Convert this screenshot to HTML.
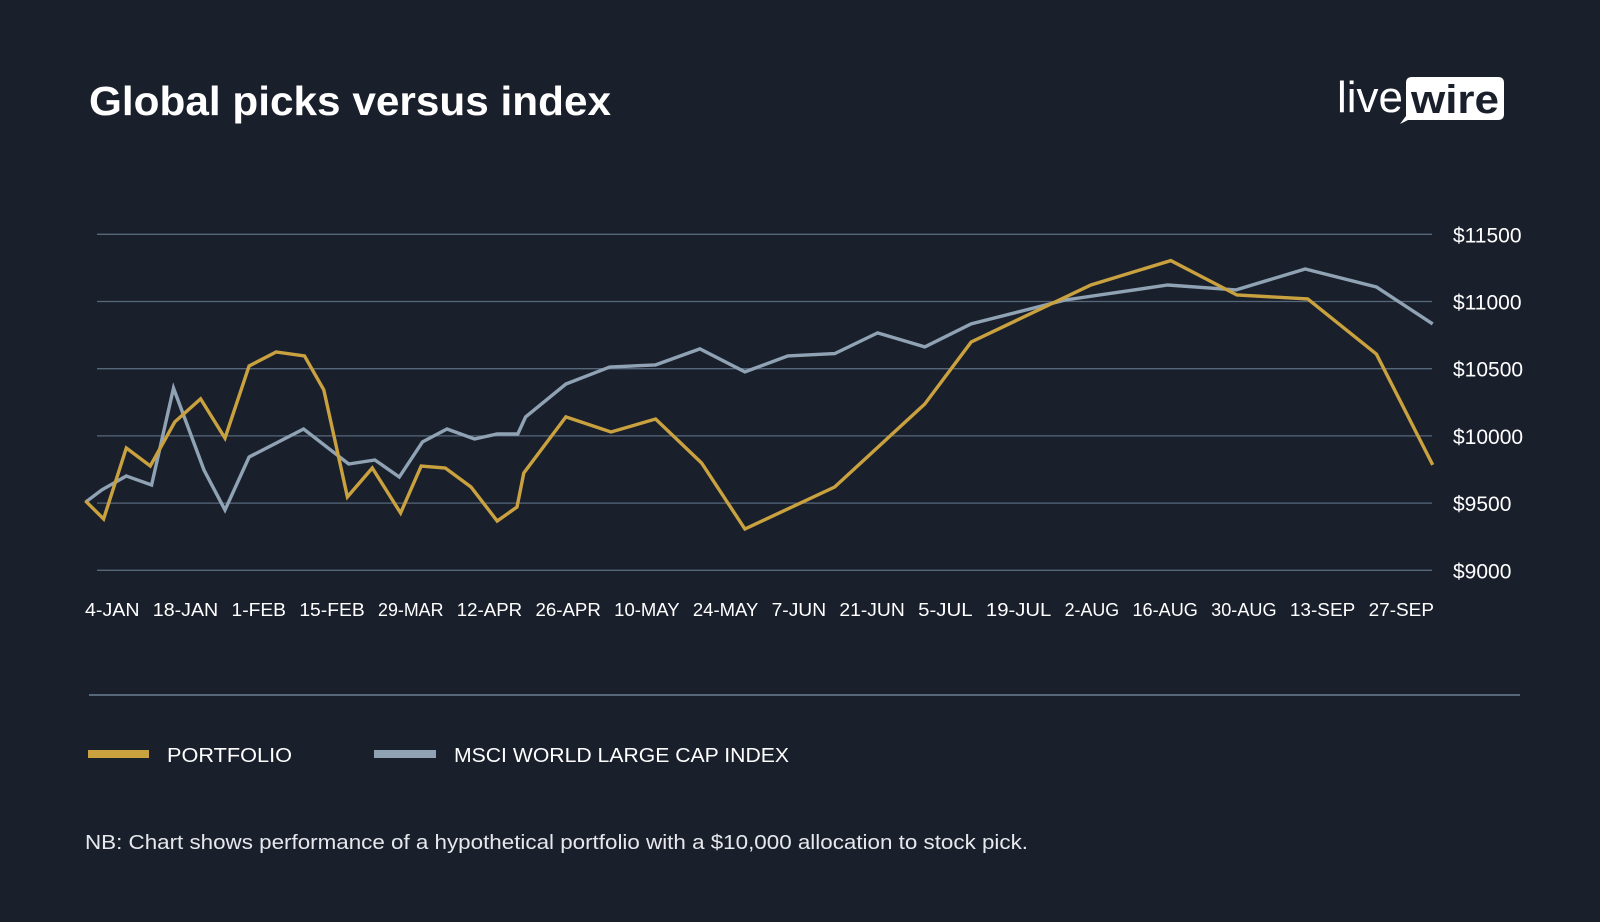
<!DOCTYPE html>
<html><head><meta charset="utf-8"><style>
html,body{margin:0;padding:0;background:#1a1f2c;}
svg{display:block;font-family:"Liberation Sans",sans-serif;}
</style></head><body>
<svg id="chart" width="1600" height="922" viewBox="0 0 1600 922" xmlns="http://www.w3.org/2000/svg">
<rect width="1600" height="922" fill="#1a1f2c"/>
<text x="89" y="115" font-size="41" font-weight="bold" fill="#ffffff" textLength="522" lengthAdjust="spacingAndGlyphs">Global picks versus index</text>
<g>
<text x="1337" y="112" font-size="44" fill="#ffffff" textLength="66" lengthAdjust="spacingAndGlyphs">live</text>
<path d="M1412,77 H1498 Q1504,77 1504,83 V114 Q1504,120 1498,120 H1408 L1400,124 L1406,116 V83 Q1406,77 1412,77 Z" fill="#ffffff"/>
<text x="1411" y="113" font-size="40" font-weight="bold" fill="#1a1f2c" textLength="88" lengthAdjust="spacingAndGlyphs">wire</text>
</g>
<g id="grid"></g><g id="yaxis"></g><g id="xaxis"></g><g id="series"></g>
<line x1="89" y1="695" x2="1520" y2="695" stroke="#56677a" stroke-width="2"/>
<g>
<g>
<rect x="88" y="750" width="61" height="8" fill="#c9a23f"/>
<text x="167" y="762" font-size="20" fill="#ffffff" textLength="125" lengthAdjust="spacingAndGlyphs">PORTFOLIO</text>
</g>
<g>
<rect x="374" y="750" width="62" height="8" fill="#8fa3b4"/>
<text x="454" y="762" font-size="20" fill="#ffffff" textLength="335" lengthAdjust="spacingAndGlyphs">MSCI WORLD LARGE CAP INDEX</text>
</g>
</g>
<text x="85" y="849" font-size="20" fill="#e6e8ec" textLength="943" lengthAdjust="spacingAndGlyphs">NB: Chart shows performance of a hypothetical portfolio with a $10,000 allocation to stock pick.</text>
</svg>
<script>
const xLabels = ["4-JAN","18-JAN","1-FEB","15-FEB","29-MAR","12-APR","26-APR","10-MAY","24-MAY","7-JUN","21-JUN","5-JUL","19-JUL","2-AUG","16-AUG","30-AUG","13-SEP","27-SEP"];
const yTicks = [9000,9500,10000,10500,11000,11500];
const portfolioT = [-0.64,-0.22,0.31,0.87,1.44,2.04,2.61,3.17,3.80,4.46,4.91,5.46,6.04,6.70,7.18,7.74,8.34,8.95,9.41,9.57,10.55,11.60,12.64,13.71,14.72,16.81,18.91,19.99,22.78,24.64,26.18,27.83,29.43,30.74];
const portfolioV = [9516,9382,9910,9776,10104,10275,9984,10520,10624,10595,10342,9546,9761,9426,9776,9761,9620,9367,9471,9724,10141,10029,10126,9798,9307,9620,10237,10699,11123,11304,11048,11019,10609,9784];
const indexT = [-0.64,-0.26,0.31,0.90,1.41,2.12,2.61,3.17,4.44,5.49,6.10,6.67,7.21,7.78,8.42,8.95,9.43,9.61,10.55,11.57,12.64,13.67,14.72,15.72,16.81,17.81,18.91,19.99,22.18,24.57,26.16,27.77,29.43,30.74];
const indexV = [9507,9598,9702,9635,10356,9746,9449,9843,10051,9791,9821,9694,9955,10051,9977,10014,10014,10141,10386,10513,10528,10647,10476,10595,10612,10766,10662,10833,11011,11123,11086,11242,11108,10833];

const NS="http://www.w3.org/2000/svg";
const x = t => 113 + t*42.93;
const y = v => 570.3 - (v-9000)*(336/2500);
function mk(tag, attrs, parent){const e=document.createElementNS(NS,tag);for(const k in attrs)e.setAttribute(k,attrs[k]);parent.appendChild(e);return e;}
const grid=document.getElementById('grid'), ya=document.getElementById('yaxis'), xa=document.getElementById('xaxis'), ser=document.getElementById('series');
yTicks.forEach(v=>{
  const l=mk('line',{x1:97,x2:1432,y1:y(v),y2:y(v),stroke:'#56677a','stroke-width':1.3},grid);
  
  
  const t=mk('text',{x:1453,y:y(v)+8,'font-size':21,fill:'#ffffff'},ya);
  t.textContent='$'+v;
  
  
});
// sequential label layout: fixed gap, width proportional to char count
const charW = 10.9, labelStart = 85, labelEnd = 1434;
const totalChars = xLabels.reduce((a,s)=>a+s.length,0);
const gap = (labelEnd-labelStart - totalChars*charW)/(xLabels.length-1);
let cx = labelStart;
xLabels.forEach((s,i)=>{
  const w = s.length*charW;
  const t=mk('text',{x:cx,y:616,'font-size':18,fill:'#ffffff',textLength:w,lengthAdjust:'spacingAndGlyphs'},xa);
  t.textContent=s;
  
  
  cx += w + gap;
});
function line(T,V,color,name){
  const d=T.map((t,i)=>(i?'L':'M')+x(t).toFixed(1)+','+y(V[i]).toFixed(1)).join(' ');
  const p=mk('path',{d:d,fill:'none',stroke:color,'stroke-width':3.4,'stroke-linejoin':'miter'},ser);
  
  
}
line(indexT,indexV,'#8fa3b4','index-line');
line(portfolioT,portfolioV,'#c9a23f','portfolio-line');
</script>
</body></html>
